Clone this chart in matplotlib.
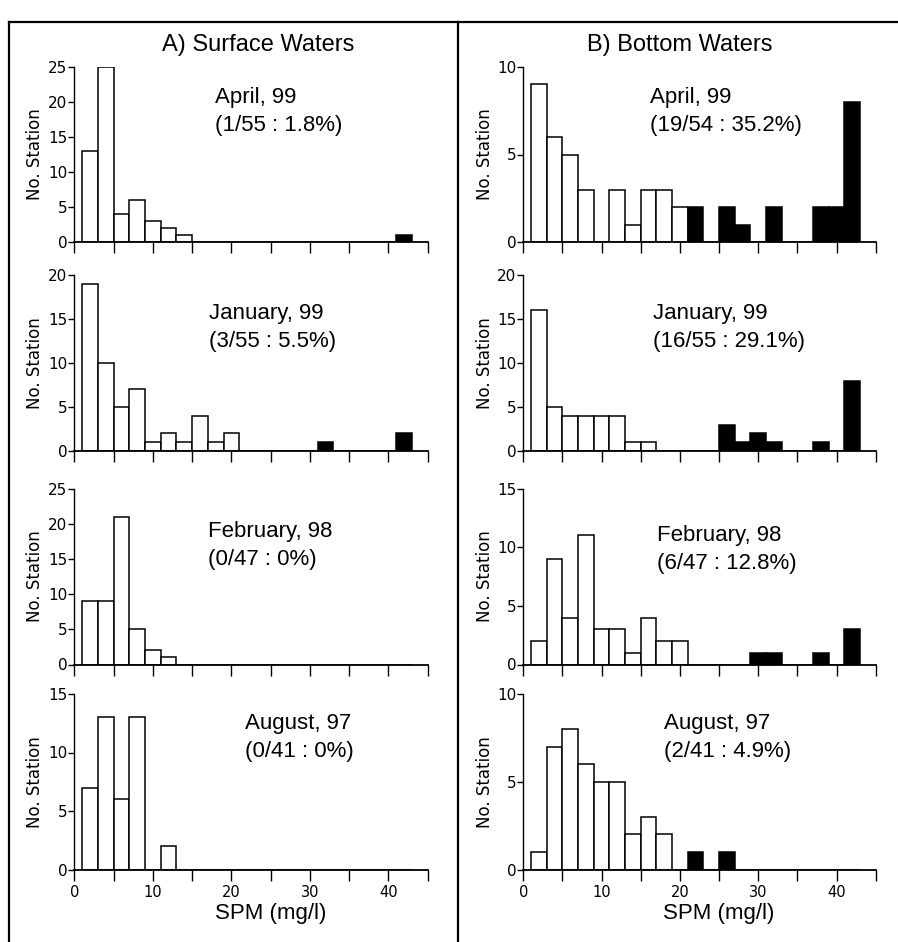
import numpy as np
import matplotlib.pyplot as plt
from matplotlib.lines import Line2D

# bin centres (mg/l), 2 mg/l wide bins
centers = np.arange(2, 44, 2)

# surface waters, counts per bin
surf_apr99 = [13, 25, 4, 6, 3, 2, 1, 0, 0, 0, 0, 0, 0, 0, 0, 0, 0, 0, 0, 0, 1]
surf_jan99 = [19, 10, 5, 7, 1, 2, 1, 4, 1, 2, 0, 0, 0, 0, 0, 1, 0, 0, 0, 0, 2]
surf_feb98 = [9, 9, 21, 5, 2, 1, 0, 0, 0, 0, 0, 0, 0, 0, 0, 0, 0, 0, 0, 0, 0]
surf_aug97 = [7, 13, 6, 13, 0, 2, 0, 0, 0, 0, 0, 0, 0, 0, 0, 0, 0, 0, 0, 0, 0]

# bottom waters, counts per bin
bot_apr99 = [9, 6, 5, 3, 0, 3, 1, 3, 3, 2, 2, 0, 2, 1, 0, 2, 0, 0, 2, 2, 8]
bot_jan99 = [16, 5, 4, 4, 4, 4, 1, 1, 0, 0, 0, 0, 3, 1, 2, 1, 0, 0, 1, 0, 8]
bot_feb98 = [2, 9, 4, 11, 3, 3, 1, 4, 2, 2, 0, 0, 0, 0, 1, 1, 0, 0, 1, 0, 3]
bot_aug97 = [1, 7, 8, 6, 5, 5, 2, 3, 2, 0, 1, 0, 1, 0, 0, 0, 0, 0, 0, 0, 0]

threshold = 21  # bins above this are filled black

surface = [surf_apr99, surf_jan99, surf_feb98, surf_aug97]
bottom = [bot_apr99, bot_jan99, bot_feb98, bot_aug97]
surf_ymax = [25, 20, 25, 15]
bot_ymax = [10, 20, 15, 10]
surf_notes = [("April, 99", "(1/55 : 1.8%)"), ("January, 99", "(3/55 : 5.5%)"),
              ("February, 98", "(0/47 : 0%)"), ("August, 97", "(0/41 : 0%)")]
bot_notes = [("April, 99", "(19/54 : 35.2%)"), ("January, 99", "(16/55 : 29.1%)"),
             ("February, 98", "(6/47 : 12.8%)"), ("August, 97", "(2/41 : 4.9%)")]

W, H = 898, 942
fig = plt.figure(figsize=(W / 100, H / 100), dpi=100)

rows = [(66.7, 242.3), (275, 451), (488.5, 664.5), (694, 869.5)]
cols = [(74.3, 427.7), (523.3, 875.7)]
# note text positions (left x, first line y) in pixels
note_pos = [[(215, 97), (209, 313), (208, 532), (245, 723)],
            [(650, 97), (653, 313), (657, 535), (664, 723)]]

sans = 'Liberation Sans'

for c, (data, ymaxs, notes) in enumerate([(surface, surf_ymax, surf_notes),
                                           (bottom, bot_ymax, bot_notes)]):
    x0, x1 = cols[c]
    for r in range(4):
        top, bot = rows[r]
        ax = fig.add_axes([x0 / W, 1 - bot / H, (x1 - x0) / W, (bot - top) / H])
        counts = np.array(data[r])
        colors = ['black' if x > threshold else 'white' for x in centers]
        ax.bar(centers, counts, width=2, color=colors, edgecolor='black', linewidth=1.1)
        ax.set_xlim(0, 45)
        ax.set_ylim(0, ymaxs[r])
        ax.spines['top'].set_visible(False)
        ax.spines['right'].set_visible(False)
        ax.spines['left'].set_linewidth(1.0)
        ax.spines['bottom'].set_linewidth(1.3)
        ax.set_yticks(np.arange(0, ymaxs[r] + 1, 5))
        ax.set_xticks(np.arange(0, 46, 5))
        if r == 3:
            ax.set_xticklabels([str(v) if v % 10 == 0 else '' for v in range(0, 46, 5)])
            ax.text(0.555, -0.25, 'SPM (mg/l)', transform=ax.transAxes, ha='center',
                    va='center', fontsize=16, family=sans)
        else:
            ax.set_xticklabels([])
        ax.tick_params(axis='x', direction='out', length=8, width=1, pad=3, labelsize=10.5)
        ax.tick_params(axis='y', direction='out', length=4, width=1, pad=1, labelsize=11)
        ax.text(-0.11, 0.5, 'No. Station', rotation=90, transform=ax.transAxes,
                ha='center', va='center', fontsize=12)
        nx, ny = note_pos[c][r]
        fig.text(nx / W, 1 - ny / H, notes[r][0], ha='left', va='center',
                 fontsize=16, family=sans)
        fig.text(nx / W, 1 - (ny + 28) / H, notes[r][1], ha='left', va='center',
                 fontsize=16, family=sans)

fig.text(258 / W, 1 - 45 / H, 'A) Surface Waters', ha='center', va='center',
         fontsize=17, family=sans)
fig.text(680 / W, 1 - 45 / H, 'B) Bottom Waters', ha='center', va='center',
         fontsize=17, family=sans)

# outer frame and divider
fig.add_artist(Line2D([9 / W, 9 / W], [0, 1 - 22 / H], color='black', linewidth=1.6))
fig.add_artist(Line2D([9 / W, 1], [1 - 22 / H, 1 - 22 / H], color='black', linewidth=1.6))
fig.add_artist(Line2D([458 / W, 458 / W], [0, 1 - 22 / H], color='black', linewidth=1.6))

fig.savefig('out.png', dpi=100)
